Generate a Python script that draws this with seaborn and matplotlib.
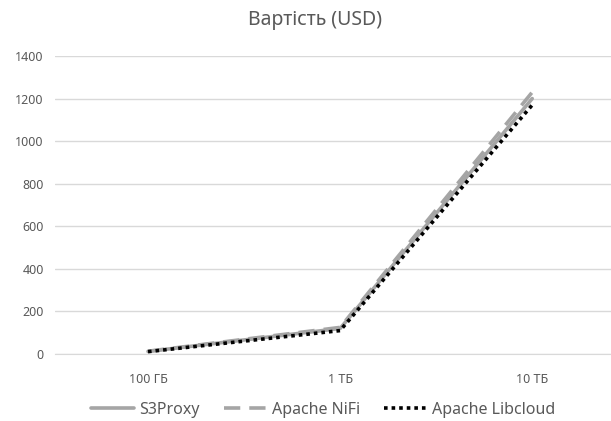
import seaborn as sns
import pandas as pd
from matplotlib import pyplot as plt

# дані з графіка
sizes = ['100 ГБ', '1 ТБ', '10 ТБ']
s3proxy = [12, 120, 1200]
nifi = [13, 125, 1230]
libcloud = [11, 110, 1170]
series_names = ['S3Proxy', 'Apache NiFi', 'Apache Libcloud']

df = pd.DataFrame({'size': sizes * 3,
                   'pos': list(range(len(sizes))) * 3,
                   'cost': s3proxy + nifi + libcloud,
                   'tool': [n for n in series_names for _ in sizes]})

sns.set_style('white')
plt.rcParams['font.family'] = ['Noto Sans', 'DejaVu Sans']

fig = plt.figure(figsize=(6.11, 4.21), dpi=100)
ax = fig.add_axes([55 / 611, 1 - 354 / 421, 556 / 611, 298 / 421])

palette = {'S3Proxy': '#a5a5a5', 'Apache NiFi': '#a5a5a5', 'Apache Libcloud': '#000000'}
dashes = {'S3Proxy': '', 'Apache NiFi': (4.5, 2.5), 'Apache Libcloud': (1, 1.1)}
sns.lineplot(data=df, x='pos', y='cost', hue='tool', style='tool',
             palette=palette, dashes=dashes, linewidth=2.6, ax=ax,
             hue_order=series_names, style_order=series_names)

ax.set_xlim(-0.484, 2.41)
ax.set_ylim(0, 1400)
ax.set_yticks(range(0, 1401, 200))
ax.set_xticks(range(len(sizes)))
ax.set_xticklabels(sizes)
ax.grid(axis='y', color='#d9d9d9', linewidth=1)
ax.set_axisbelow(True)
for s in ['top', 'right', 'left']:
    ax.spines[s].set_visible(False)
ax.spines['bottom'].set_color('#d9d9d9')
ax.tick_params(axis='both', length=0, colors='#595959', labelsize=9, pad=8)
ax.tick_params(axis='x', pad=14)
ax.set_xlabel('')
ax.set_ylabel('')

fig.text(0.5 + 10 / 611, 1 - 20 / 421, 'Вартість (USD)', ha='center', va='center',
         fontsize=14, color='#595959')

ax.legend(loc='center', bbox_to_anchor=(0.5 - 10 / 556, -56 / 298), ncol=3,
          frameon=False, fontsize=11.5, handlelength=2.7, columnspacing=1.5,
          handletextpad=0.3, labelcolor='#595959')

fig.savefig('out.png', dpi=100)
